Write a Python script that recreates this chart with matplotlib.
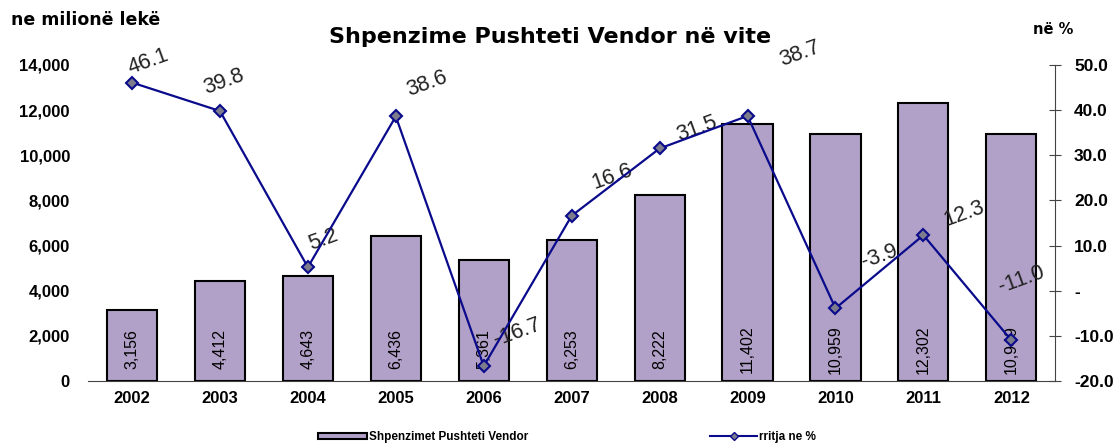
import numpy as np
import matplotlib.pyplot as plt
from matplotlib.lines import Line2D
from matplotlib.patches import Patch

years = ['2002', '2003', '2004', '2005', '2006', '2007', '2008', '2009', '2010', '2011', '2012']
spending = [3156, 4412, 4643, 6436, 5361, 6253, 8222, 11402, 10959, 12302, 10949]
growth = [46.1, 39.8, 5.2, 38.6, -16.7, 16.6, 31.5, 38.7, -3.9, 12.3, -11.0]

# where each percent label sits relative to its point (pixels, right/up)
offs = [(16, 21), (4, 29), (15, 27), (31, 33), (33, 34), (40, 39), (37, 20), (52, 62), (44, 52), (41, 21), (10, 61)]

navy = '#0a0a8c'
lav = '#b1a0c7'

plt.rcParams['font.family'] = ['Liberation Sans', 'DejaVu Sans']

fig = plt.figure(figsize=(11.17, 4.47), dpi=100)
ax = fig.add_axes([0.0788, 0.1477, 0.866, 0.707])
x = np.arange(len(years))

ax.bar(x, spending, width=0.57, color=lav, edgecolor='black', linewidth=1.5, zorder=2)
for xi, v in zip(x, spending):
    ax.text(xi, 1400, f'{v:,}', rotation=90, ha='center', va='center', fontsize=11.5, zorder=5)

ax.set_xlim(-0.5, len(years) - 0.5)
ax.set_ylim(0, 14000)
yt = np.arange(0, 14001, 2000)
ax.set_yticks(yt)
ax.set_yticklabels([f'{int(t):,}' for t in yt], fontsize=12, fontweight='bold')
ax.set_xticks(x)
ax.set_xticklabels(years, fontsize=12, fontweight='bold')
ax.tick_params(axis='y', length=0, pad=13)
ax.tick_params(axis='x', length=0, pad=7)
for s in ['top', 'right', 'left']:
    ax.spines[s].set_visible(False)
ax.spines['bottom'].set_color('#444444')

ax2 = ax.twinx()
ax2.plot(x, growth, color=navy, linewidth=1.6, marker='D', markersize=6.5,
         markerfacecolor='#7c7c8c', markeredgecolor=navy, markeredgewidth=1.5, zorder=4)
ax2.set_ylim(-20, 50)
rt = np.arange(-20, 51, 10)
ax2.set_yticks(rt)
ax2.set_yticklabels(['-' if t == 0 else f'{t:.1f}' for t in rt], fontsize=12.5, fontweight='bold')
ax2.tick_params(axis='y', direction='inout', length=9, pad=9, color='#444444')
for s in ['top', 'left', 'bottom']:
    ax2.spines[s].set_visible(False)
ax2.spines['right'].set_color('#444444')
for xi, g, o in zip(x, growth, offs):
    ax2.annotate(f'{g:.1f}', (xi, g), xytext=o, textcoords='offset pixels',
                 rotation=20, ha='center', va='center', fontsize=15.5, color='#222222')

fig.text(0.492, 0.917, 'Shpenzime Pushteti Vendor në vite', ha='center', va='center',
         fontsize=16, fontweight='bold', family=['DejaVu Sans'])
fig.text(0.010, 0.955, 'ne milionë lekë', ha='left', va='center', fontsize=12.5,
         fontweight='bold', family=['DejaVu Sans'])
fig.text(0.925, 0.933, 'në %', ha='left', va='center', fontsize=10.5,
         fontweight='bold', family=['DejaVu Sans'])

bar_h = Patch(facecolor=lav, edgecolor='black', linewidth=1.5)
line_h = Line2D([0], [0], color=navy, marker='D', markersize=4,
                markerfacecolor='#7c7c8c', markeredgecolor=navy)
fig.legend([bar_h], ['Shpenzimet Pushteti Vendor'], loc='center left',
           bbox_to_anchor=(0.2847, 0.022), frameon=False, borderpad=0, borderaxespad=0,
           prop={'weight': 'bold', 'size': 8.5}, handlelength=4.15, handleheight=0.5,
           handletextpad=0.15)
fig.legend([line_h], ['rritja ne %'], loc='center left', bbox_to_anchor=(0.6356, 0.022),
           frameon=False, borderpad=0, borderaxespad=0,
           prop={'weight': 'bold', 'size': 8.5}, handlelength=4.0, handletextpad=0.15)

fig.savefig('out.png', dpi=100)
